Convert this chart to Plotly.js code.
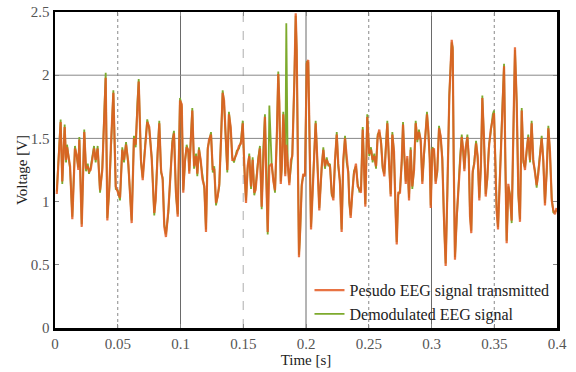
<!DOCTYPE html>
<html><head><meta charset="utf-8">
<script src="https://cdn.plot.ly/plotly-3.0.1.min.js"></script>
<style>html,body{margin:0;padding:0;background:#fff}</style>
</head><body><div id="chart" style="width:576px;height:372px"></div>
<script>
// Time samples [s]
const time = [
0.0014,0.0045,0.0058,0.0077,0.0088,0.0096,0.0120,0.0138,0.0159,0.0175,
0.0186,0.0194,0.0213,0.0233,0.0247,0.0261,0.0271,0.0284,0.0311,0.0324,
0.0340,0.0359,0.0377,0.0404,0.0417,0.0433,0.0446,0.0465,0.0484,0.0500,
0.0518,0.0536,0.0550,0.0566,0.0584,0.0611,0.0629,0.0643,0.0656,0.0667,
0.0685,0.0699,0.0717,0.0735,0.0751,0.0771,0.0791,0.0802,0.0818,0.0831,
0.0845,0.0858,0.0871,0.0884,0.0903,0.0922,0.0935,0.0948,0.0964,0.0978,
0.0996,0.1010,0.1022,0.1036,0.1049,0.1062,0.1070,0.1081,0.1094,0.1108,
0.1124,0.1134,0.1147,0.1161,0.1174,0.1190,0.1203,0.1217,0.1227,0.1243,
0.1257,0.1269,0.1283,0.1296,0.1309,0.1323,0.1336,0.1347,0.1360,0.1373,
0.1386,0.1400,0.1413,0.1426,0.1448,0.1466,0.1482,0.1496,0.1508,0.1522,
0.1535,0.1548,0.1562,0.1575,0.1588,0.1598,0.1620,0.1633,0.1647,0.1660,
0.1673,0.1685,0.1695,0.1708,0.1727,0.1740,0.1753,0.1767,0.1779,0.1787,
0.1799,0.1807,0.1819,0.1827,0.1835,0.1843,0.1854,0.1867,0.1880,0.1891,
0.1907,0.1918,0.1926,0.1934,0.1944,0.1952,0.1966,0.1978,0.1992,0.2006,
0.2018,0.2040,0.2052,0.2064,0.2077,0.2088,0.2106,0.2125,0.2138,0.2151,
0.2165,0.2178,0.2191,0.2205,0.2218,0.2231,0.2245,0.2257,0.2271,0.2284,
0.2297,0.2311,0.2324,0.2337,0.2345,0.2356,0.2369,0.2382,0.2398,0.2412,
0.2425,0.2438,0.2452,0.2462,0.2473,0.2488,0.2504,0.2518,0.2531,0.2544,
0.2558,0.2571,0.2584,0.2598,0.2611,0.2624,0.2637,0.2648,0.2661,0.2675,
0.2688,0.2701,0.2715,0.2723,0.2735,0.2749,0.2763,0.2773,0.2783,0.2795,
0.2807,0.2821,0.2834,0.2847,0.2861,0.2874,0.2887,0.2900,0.2914,0.2927,
0.2940,0.2954,0.2964,0.2975,0.2986,0.2994,0.3006,0.3020,0.3033,0.3046,
0.3060,0.3073,0.3086,0.3100,0.3113,0.3126,0.3142,0.3161,0.3169,0.3177,
0.3187,0.3201,0.3214,0.3227,0.3241,0.3254,0.3262,0.3273,0.3286,0.3297,
0.3307,0.3317,0.3328,0.3341,0.3355,0.3368,0.3381,0.3394,0.3405,0.3418,
0.3432,0.3445,0.3458,0.3472,0.3488,0.3498,0.3508,0.3519,0.3530,0.3540,
0.3554,0.3567,0.3578,0.3588,0.3599,0.3612,0.3625,0.3639,0.3652,0.3665,
0.3679,0.3692,0.3705,0.3719,0.3732,0.3745,0.3758,0.3771,0.3785,0.3798,
0.3811,0.3825,0.3838,0.3851,0.3865,0.3878,0.3891,0.3904,0.3918,0.3931,
0.3944,0.3958,0.3971,0.3984,0.3996
];
// Pesudo EEG signal transmitted [V]
const transmitted = [
1.06,1.63,1.16,1.59,1.33,1.43,1.28,0.86,1.42,1.36,
1.25,1.49,0.80,1.55,1.26,1.28,1.24,1.25,1.42,1.33,
1.42,1.09,1.25,1.98,0.85,1.12,1.46,1.86,1.12,1.07,
1.03,1.41,1.33,1.45,1.31,0.83,1.50,1.45,1.75,1.95,
1.33,1.17,1.41,1.63,1.59,1.33,0.91,1.01,1.38,1.62,
1.25,1.17,0.80,0.72,0.93,1.28,1.46,1.54,1.07,0.88,
1.80,1.77,1.07,1.33,1.43,1.41,1.22,1.46,1.72,1.28,
1.36,1.22,1.41,1.33,1.18,1.12,0.76,1.41,1.49,1.53,
1.25,1.26,0.99,1.04,1.14,1.49,1.86,1.80,1.46,1.25,
1.69,1.59,1.33,1.33,1.38,1.44,1.46,1.62,1.30,0.99,
1.28,1.36,1.12,1.33,1.07,1.09,1.33,1.42,0.96,1.41,
1.67,1.12,0.76,1.28,1.30,1.16,1.09,1.49,2.01,1.80,
1.14,1.28,1.69,1.53,1.20,1.45,1.33,1.13,1.33,1.36,
1.94,2.49,2.20,1.33,0.56,0.74,1.12,1.22,1.20,2.09,
2.12,0.78,1.05,1.33,1.62,1.38,0.93,1.28,1.41,1.28,
1.33,1.30,1.28,1.07,1.01,1.33,1.53,1.30,1.14,0.76,
1.33,1.50,1.33,1.22,1.01,0.87,1.07,1.22,1.30,1.12,
1.10,1.07,1.57,1.33,0.96,1.67,1.38,1.41,1.33,1.36,
1.28,1.51,1.57,1.46,1.28,1.20,1.44,1.62,1.33,1.04,
1.53,1.40,0.88,0.66,1.07,1.07,1.33,1.61,1.38,1.14,
1.36,1.01,1.41,1.12,1.25,1.62,1.49,1.55,1.49,1.14,
1.38,1.58,1.69,1.56,1.33,0.95,1.41,1.42,1.14,1.25,
1.58,1.52,1.33,0.85,0.49,1.07,1.83,2.28,2.20,1.33,
0.54,0.88,1.12,1.36,1.51,1.40,1.24,1.43,1.51,1.36,
0.88,0.75,1.24,1.30,1.46,1.36,1.01,1.30,1.82,1.51,
1.04,1.20,1.43,1.57,1.67,1.70,1.33,0.93,0.78,1.04,
1.43,1.83,2.07,1.36,0.67,1.14,1.04,0.85,1.55,2.22,
1.77,1.07,0.84,1.72,1.33,1.25,1.41,1.51,1.33,1.62,
1.33,1.22,1.13,1.22,1.36,1.50,1.33,0.97,1.25,1.58,
1.40,1.01,0.93,0.90,0.95
];
// Demodulated EEG signal [V]
const demodulated = [
1.08,1.65,1.14,1.61,1.31,1.45,1.26,0.88,1.44,1.34,
1.27,1.51,0.82,1.57,1.24,1.30,1.22,1.27,1.44,1.31,
1.44,1.07,1.27,2.02,0.87,1.10,1.48,1.88,1.10,1.09,
1.01,1.43,1.31,1.47,1.29,0.85,1.52,1.43,1.77,1.97,
1.31,1.19,1.43,1.65,1.57,1.35,0.89,1.03,1.40,1.64,
1.23,1.19,0.82,0.74,0.91,1.30,1.48,1.56,1.05,0.90,
1.82,1.75,1.09,1.31,1.45,1.39,1.24,1.48,1.74,1.26,
1.38,1.20,1.43,1.31,1.20,1.10,0.78,1.43,1.47,1.55,
1.23,1.28,0.97,1.06,1.12,1.51,1.88,1.78,1.48,1.23,
1.71,1.57,1.35,1.31,1.40,1.42,1.48,1.64,1.28,1.01,
1.26,1.38,1.10,1.35,1.05,1.11,1.35,1.44,0.94,1.43,
1.69,1.10,0.74,1.76,1.28,1.18,1.07,1.51,2.03,1.78,
1.16,1.26,1.71,1.51,1.22,2.41,1.31,1.15,1.31,1.38,
1.96,2.47,2.18,1.35,0.58,0.72,1.14,1.20,1.22,2.11,
2.10,0.80,1.03,1.35,1.64,1.36,0.95,1.26,1.43,1.26,
1.35,1.28,1.30,1.05,1.03,1.31,1.55,1.28,1.16,0.78,
1.31,1.52,1.31,1.24,0.99,0.89,1.05,1.24,1.28,1.14,
1.08,1.09,1.59,1.31,0.98,1.69,1.36,1.43,1.31,1.38,
1.26,1.53,1.55,1.48,1.26,1.22,1.42,1.64,1.31,1.06,
1.55,1.38,0.90,0.68,1.05,1.09,1.31,1.63,1.36,1.16,
1.34,1.03,1.43,1.10,1.27,1.64,1.47,1.57,1.47,1.16,
1.36,1.60,1.71,1.54,1.35,0.97,1.43,1.40,1.16,1.23,
1.60,1.50,1.35,0.83,0.51,1.05,1.85,2.26,2.22,1.31,
0.56,0.86,1.14,1.34,1.53,1.38,1.26,1.41,1.53,1.34,
0.90,0.77,1.22,1.32,1.48,1.34,1.03,1.28,1.84,1.49,
1.06,1.18,1.45,1.55,1.69,1.72,1.31,0.95,0.80,1.02,
1.45,1.81,2.09,1.34,0.69,1.12,1.06,0.83,1.57,2.20,
1.79,1.05,0.86,1.74,1.31,1.27,1.39,1.53,1.31,1.64,
1.31,1.24,1.11,1.24,1.34,1.52,1.31,0.99,1.23,1.60,
1.38,1.03,0.91,0.92,0.93
];
const xTicks = [0,0.05,0.1,0.15,0.2,0.25,0.3,0.35,0.4];
const xTickText = ["0","0.05","0.1","0.15","0.2","0.25","0.3","0.35","0.4"];
const yTicks = [0,0.5,1,1.5,2,2.5];
const yTickText = ["0","0.5","1","1.5","2","2.5"];
const solidVGrid = [0.1,0.2,0.3];
const darkDottedVGrid = [0.05,0.25,0.35];
const lightDashedVGrid = [0.15];
const hGrid = [1.5,2];

const FONT = "Liberation Serif";

const traces = [
  {x: time, y: demodulated, type: 'scatter', mode: 'lines', name: 'Demodulated EEG signal',
   line: {color: 'rgb(125,170,45)', width: 1.8}, legendrank: 2},
  {x: time, y: transmitted, type: 'scatter', mode: 'lines', name: 'Pesudo EEG signal transmitted',
   line: {color: 'rgb(228,90,34)', width: 2.2}, opacity: 0.85, legendrank: 1}
];

const shapes = [];
solidVGrid.forEach(v => shapes.push({type:'line', xref:'x', yref:'paper', x0:v, x1:v, y0:0, y1:1, layer:'below', line:{color:'#6a6a6a', width:1}}));
darkDottedVGrid.forEach(v => shapes.push({type:'line', xref:'x', yref:'paper', x0:v, x1:v, y0:0, y1:1, layer:'below', line:{color:'#888', width:1, dash:'dot'}}));
lightDashedVGrid.forEach(v => shapes.push({type:'line', xref:'x', yref:'paper', x0:v, x1:v, y0:0, y1:1, layer:'below', line:{color:'#bbb', width:1.2, dash:'dash'}}));
hGrid.forEach(v => shapes.push({type:'line', xref:'paper', yref:'y', x0:0, x1:1, y0:v, y1:v, layer:'below', line:{color:'#888', width:1}}));

const axisCommon = {
  showgrid: false, zeroline: false, showline: true, linecolor: '#000', linewidth: 2.5,
  mirror: 'allticks', ticks: 'inside', ticklen: 4, tickcolor: '#888', tickwidth: 1,
  tickfont: {family: FONT, size: 15, color: '#555'}
};

const layout = {
  width: 576, height: 372,
  margin: {l: 55, r: 19, t: 12, b: 44},
  paper_bgcolor: '#fff', plot_bgcolor: '#fff',
  font: {family: FONT, color: '#222'},
  showlegend: true,
  legend: {x: 0.995, xanchor: 'right', y: -0.01, yanchor: 'bottom', bgcolor: 'rgba(0,0,0,0)',
           font: {family: FONT, size: 16, color: '#222'}, tracegroupgap: 0},
  xaxis: Object.assign({}, axisCommon, {range: [0, 0.4], tickvals: xTicks, ticktext: xTickText,
          title: {text: 'Time [s]', font: {family: FONT, size: 15, color: '#222'}, standoff: 2}}),
  yaxis: Object.assign({}, axisCommon, {range: [0, 2.5], tickvals: yTicks, ticktext: yTickText,
          title: {text: 'Voltage [V]', font: {family: FONT, size: 15, color: '#222'}, standoff: 0}}),
  shapes: shapes
};

Plotly.newPlot('chart', traces, layout, {displayModeBar: false, staticPlot: true});
</script>
</body></html>
